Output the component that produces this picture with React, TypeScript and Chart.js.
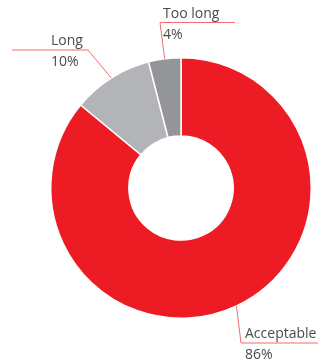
import React, { useEffect, useRef } from "react";
import { Chart, registerables } from "chart.js";

Chart.register(...registerables);

const categories = ["Acceptable", "Long", "Too long"];
const values = [86, 10, 4];
const valueLabels = ["86%", "10%", "4%"];
const colors = ["#ED1C24", "#B3B4B7", "#949598"];

// leader line layout: elbow point and horizontal run end, per slice
const leaderLayout = [
  { ex: 241, ey: 343, hx: 318, tx: 245 },
  { ex: 88, ey: 50, hx: 12, tx: 51 },
  { ex: 160, ey: 22.5, hx: 235, tx: 163 },
];

const leaderPlugin = {
  id: "leaders",
  afterDraw(chart: any) {
    const ctx = chart.ctx;
    const meta = chart.getDatasetMeta(0);
    ctx.save();
    meta.data.forEach((arc: any, i: number) => {
      const p = arc.getProps(["x", "y", "startAngle", "endAngle", "outerRadius"], true);
      const mid = (p.startAngle + p.endAngle) / 2;
      const sx = p.x + Math.cos(mid) * p.outerRadius;
      const sy = p.y + Math.sin(mid) * p.outerRadius;
      const L = leaderLayout[i];
      ctx.strokeStyle = "#F26B70";
      ctx.lineWidth = 1;
      ctx.beginPath();
      ctx.moveTo(sx, sy);
      ctx.lineTo(L.ex, L.ey);
      ctx.lineTo(L.hx, L.ey);
      ctx.stroke();
      ctx.fillStyle = "#4a4a4a";
      ctx.font = "14px 'Open Sans', sans-serif";
      ctx.textAlign = "left";
      ctx.textBaseline = "alphabetic";
      ctx.fillText(categories[i], L.tx, L.ey - 5);
      ctx.fillText(valueLabels[i], L.tx, L.ey + 16);
    });
    ctx.restore();
  },
};

export default function App() {
  const ref = useRef<HTMLCanvasElement>(null);
  useEffect(() => {
    const chart = new Chart(ref.current!, {
      type: "doughnut",
      data: {
        labels: categories,
        datasets: [
          {
            data: values,
            backgroundColor: colors,
            borderColor: "#ffffff",
            borderWidth: 1.5,
          },
        ],
      },
      options: {
        animation: false,
        responsive: false,
        cutout: "40%",
        layout: { padding: { left: 50, right: 13, top: 57, bottom: 44 } },
        plugins: {
          legend: { display: false },
          tooltip: { enabled: false },
        },
      },
      plugins: [leaderPlugin],
    });
    return () => chart.destroy();
  }, []);
  return (
    <div style={{ position: "fixed", left: 0, top: 0, width: 325, height: 363, background: "#fff" }}>
      <canvas ref={ref} width={325} height={363} style={{ width: 325, height: 363 }} />
    </div>
  );
}
